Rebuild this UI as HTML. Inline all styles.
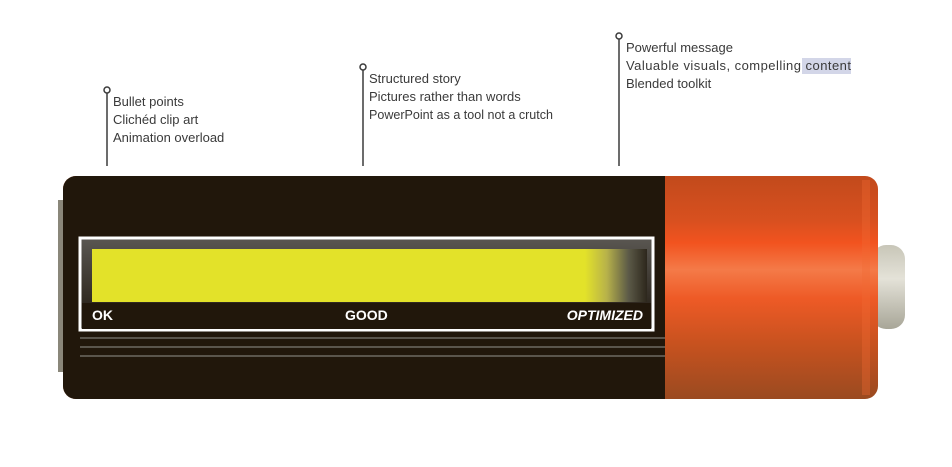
<!DOCTYPE html>
<html><head><meta charset="utf-8"><style>
html,body{margin:0;padding:0;background:#fff;}
svg{display:block;}
text{font-family:"Liberation Sans",sans-serif;}
</style></head><body>
<svg width="952" height="467" viewBox="0 0 952 467" xmlns="http://www.w3.org/2000/svg">
<defs>
<linearGradient id="or" x1="0" y1="0" x2="0" y2="1">
<stop offset="0" stop-color="#c24a1c"/>
<stop offset="0.2" stop-color="#d8501f"/>
<stop offset="0.3" stop-color="#f2531f"/>
<stop offset="0.42" stop-color="#f47a48"/>
<stop offset="0.55" stop-color="#ee5a26"/>
<stop offset="0.75" stop-color="#c8521f"/>
<stop offset="1" stop-color="#9a4a20"/>
</linearGradient>
<linearGradient id="nub" x1="0" y1="0" x2="0" y2="1">
<stop offset="0" stop-color="#c8c6b8"/>
<stop offset="0.4" stop-color="#e4e2d8"/>
<stop offset="1" stop-color="#a8a698"/>
</linearGradient>
<linearGradient id="fade" x1="0" y1="0" x2="1" y2="0">
<stop offset="0" stop-color="#e3e229"/>
<stop offset="0.35" stop-color="#b7b24a"/>
<stop offset="0.7" stop-color="#5c5a48"/>
<stop offset="1" stop-color="#2d271c"/>
</linearGradient>
<linearGradient id="win" x1="0" y1="0" x2="0" y2="1">
<stop offset="0" stop-color="#5a5752"/>
<stop offset="1" stop-color="#1e160c"/>
</linearGradient>
</defs>
<g stroke="#3a3a3a" stroke-width="1.5" fill="#fff">
<line x1="107" y1="93" x2="107" y2="166"/><circle cx="107" cy="90" r="3"/>
<line x1="363" y1="70" x2="363" y2="166"/><circle cx="363" cy="67" r="3"/>
<line x1="619" y1="39" x2="619" y2="166"/><circle cx="619" cy="36" r="3"/>
</g>
<rect x="802" y="58" width="49" height="16" fill="#d3d6e8"/>
<g font-size="13" fill="#3a3a3a">
<text x="113" y="106">Bullet points</text>
<text x="113" y="124">Clichéd clip art</text>
<text x="113" y="142">Animation overload</text>
<text x="369" y="83">Structured story</text>
<text x="369" y="101">Pictures rather than words</text>
<text x="369" y="119" textLength="184" lengthAdjust="spacingAndGlyphs">PowerPoint as a tool not a crutch</text>
<text x="626" y="52">Powerful message</text>
<text x="626" y="70" textLength="225" lengthAdjust="spacing">Valuable visuals, compelling content</text>
<text x="626" y="88">Blended toolkit</text>
</g>
<rect x="58" y="200" width="8" height="172" fill="#8a877a"/>
<rect x="872" y="245" width="33" height="84" rx="14" fill="url(#nub)"/>
<rect x="63" y="176" width="815" height="223" rx="13" fill="url(#or)"/>
<path d="M76 176 H665 V399 H76 A13 13 0 0 1 63 386 V189 A13 13 0 0 1 76 176Z" fill="#21170b"/>
<rect x="862" y="180" width="8" height="215" fill="#f26a34" opacity="0.35"/>
<rect x="80" y="238" width="573" height="92" fill="url(#win)" stroke="#fff" stroke-width="3"/>
<rect x="82" y="303" width="569" height="26" fill="#21170b"/>
<rect x="92" y="249" width="494" height="53" fill="#e3e229"/>
<rect x="585" y="249" width="62" height="53" fill="url(#fade)"/>
<g fill="#fff" font-weight="bold" font-size="14">
<text x="92" y="320">OK</text>
<text x="345" y="320">GOOD</text>
<text x="643" y="320" text-anchor="end" font-style="italic">OPTIMIZED</text>
</g>
<g stroke="#5a554c" stroke-width="2">
<line x1="80" y1="338" x2="665" y2="338"/>
<line x1="80" y1="347" x2="665" y2="347"/>
<line x1="80" y1="356" x2="665" y2="356"/>
</g>
</svg>
</body></html>
